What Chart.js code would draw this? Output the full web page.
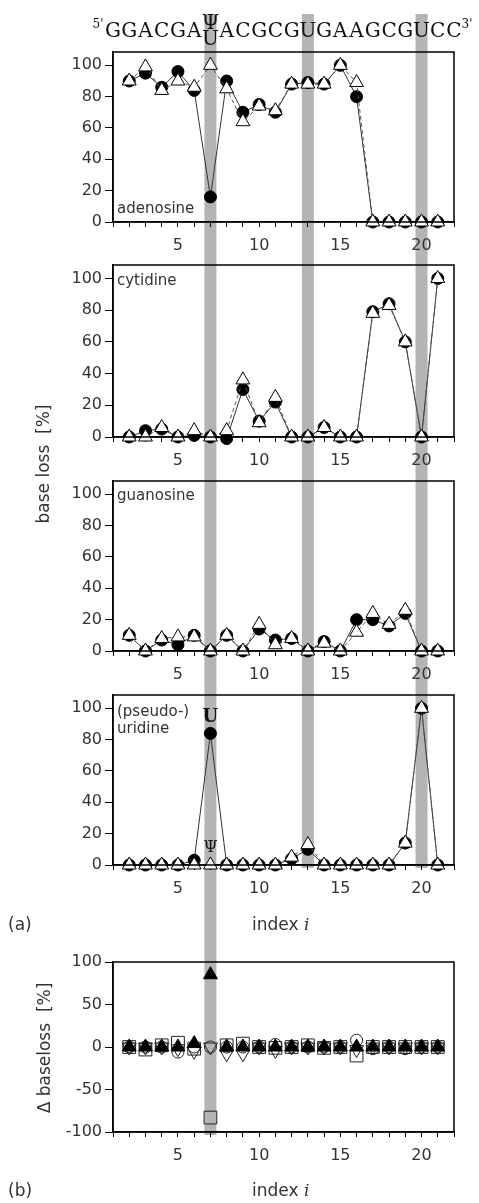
<!DOCTYPE html>
<html>
<head>
<meta charset="utf-8">
<script src="https://cdn.jsdelivr.net/npm/chart.js@4.4.0/dist/chart.umd.min.js"></script>
<style>
body { margin: 0; background: #fff; }
#wrap { position: relative; width: 479px; height: 1203px; overflow: hidden; font-family: "DejaVu Sans", sans-serif; color: #333; }
canvas { position: absolute; left: 0; }
.lbl { position: absolute; font-size: 17px; line-height: 1; white-space: nowrap; }
.rot { transform: translate(-50%, -50%) rotate(-90deg); }
</style>
</head>
<body>
<div id="wrap">
  <canvas id="c1" width="479" height="262" style="top:0px"></canvas>
  <canvas id="c2" width="479" height="215" style="top:262px"></canvas>
  <canvas id="c3" width="479" height="214" style="top:477px"></canvas>
  <canvas id="c4" width="479" height="254" style="top:691px"></canvas>
  <canvas id="c5" width="479" height="258" style="top:945px"></canvas>
  <div class="lbl rot" style="left:43px; top:464px">base loss&nbsp;&nbsp;[%]</div>
  <div class="lbl rot" style="left:44px; top:1048px">&Delta; baseloss&nbsp;&nbsp;[%]</div>
  <div class="lbl" style="left:8px; top:916px">(a)</div>
  <div class="lbl" style="left:252px; top:916px">index <i style="font-family:'DejaVu Serif'">i</i></div>
  <div class="lbl" style="left:8px; top:1182px">(b)</div>
  <div class="lbl" style="left:252px; top:1182px">index <i style="font-family:'DejaVu Serif'">i</i></div>
</div>
<script>
// positions along the strand
const positions = [2, 3, 4, 5, 6, 7, 8, 9, 10, 11, 12, 13, 14, 15, 16, 17, 18, 19, 20, 21];
const seqLetters = ['G','G','A','C','G','A','U','A','C','G','C','G','U','G','A','A','G','C','G','U','C','C'];
const bandPositions = [7, 13, 20];

const xTickValues = [1,2,3,4,5,6,7,8,9,10,11,12,13,14,15,16,17,18,19,20,21,22];
const xTickLabels = [5, 10, 15, 20];
const yTicksLoss = [0, 20, 40, 60, 80, 100];
const yTicksDelta = [-100, -50, 0, 50, 100];

// (a) base loss, filled circles = U, open triangles = Psi
const adenosineCircle   = [90, 95, 86, 96, 84, 16, 90, 70, 75, 70, 88, 89, 88, 100, 80, 0, 0, 0, 0, 0];
const adenosineTriangle = [90, 99, 84, 90, 86, 100, 85, 64, 74, 71, 88, 88, 88, 100, 89, 0, 0, 0, 0, 0];
const cytidineCircle    = [0, 4, 5, 0, 1, 0, -1, 30, 10, 22, 0, 0, 6, 0, 0, 79, 84, 60, 0, 100];
const cytidineTriangle  = [0, 0, 6, 0, 4, 0, 4, 36, 9, 25, 0, 0, 6, 0, 0, 78, 83, 60, 0, 100];
const guanosineCircle   = [10, 0, 7, 4, 10, 0, 10, 0, 14, 7, 8, 0, 6, 0, 20, 20, 16, 24, 0, 0];
const guanosineTriangle = [10, 0, 8, 9, 9, 0, 10, 0, 17, 4, 8, 0, 5, 0, 12, 24, 17, 26, 0, 0];
const uridineCircle     = [0, 0, 0, 0, 3, 84, 0, 0, 0, 0, 4, 10, 0, 0, 0, 0, 0, 14, 100, 0];
const uridineTriangle   = [0, 0, 0, 0, 0, 0, 0, 0, 0, 0, 5, 13, 0, 0, 0, 0, 0, 14, 100, 0];

// (b) difference in base loss
const deltaUp     = [0, 0, 0, 0, 4, 85, 0, 0, 0, 0, 0, 0, 0, 0, 0, 0, 0, 0, 0, 0];
const deltaSquare = [0, -3, 2, 5, -2, -83, 2, 4, 0, -1, 0, 2, -1, 0, -10, 0, 0, 0, 0, 0];
const deltaDown   = [0, 0, 0, -2, -5, 0, -8, -8, 0, -4, 0, 0, 0, 0, -3, 0, 0, 0, 0, 0];
const deltaCircle = [0, 0, 0, -6, 0, 0, 0, 0, 0, 3, 0, 0, 0, 0, 8, -2, 0, -2, 0, 0];

const SANS = '"DejaVu Sans", sans-serif';
const SERIF = '"DejaVu Serif", serif';
const INK = '#333';

function pts(values) {
  return values.map((v, i) => ({ x: positions[i], y: v }));
}

// gray columns behind the marked positions
function bandsPlugin(spans) {
  return {
    id: 'bands',
    beforeDraw(chart) {
      const ctx = chart.ctx;
      const x = chart.scales.x;
      ctx.save();
      ctx.fillStyle = '#b4b4b4';
      spans.forEach(s => {
        const px = x.getPixelForValue(s.at);
        const bottom = s.bottom === 'area' ? chart.chartArea.bottom + 3 : chart.height;
        ctx.fillRect(px - 6, s.top, 12, bottom - s.top);
      });
      ctx.restore();
    }
  };
}

const framePlugin = {
  id: 'frame',
  afterDraw(chart) {
    const { ctx, chartArea: a } = chart;
    ctx.save();
    ctx.strokeStyle = '#000';
    ctx.lineWidth = 1.5;
    ctx.strokeRect(a.left, a.top, a.right - a.left, a.bottom - a.top);
    ctx.restore();
  }
};

function textPlugin(lines) {
  return {
    id: 'panelText',
    afterDraw(chart) {
      const ctx = chart.ctx;
      ctx.save();
      ctx.fillStyle = INK;
      ctx.font = '15px ' + SANS;
      ctx.textBaseline = 'alphabetic';
      lines.forEach(l => ctx.fillText(l.text, chart.chartArea.left + 4, l.y));
      ctx.restore();
    }
  };
}

const seqPlugin = {
  id: 'sequence',
  afterDraw(chart) {
    const ctx = chart.ctx;
    const x = chart.scales.x;
    ctx.save();
    ctx.fillStyle = '#111';
    ctx.textAlign = 'center';
    ctx.textBaseline = 'middle';
    ctx.font = '20px ' + SERIF;
    seqLetters.forEach((ch, i) => {
      const px = x.getPixelForValue(i + 1);
      if (i + 1 === 7) {
        ctx.fillText('\u03A8', px, 24);
        ctx.fillText('U', px, 40);
      } else {
        ctx.fillText(ch, px, 32);
      }
    });
    ctx.font = '12px ' + SERIF;
    ctx.fillText("5'", x.getPixelForValue(1) - 15, 25);
    ctx.fillText("3'", x.getPixelForValue(22) + 13, 25);
    ctx.restore();
  }
};

const uridineMarks = {
  id: 'uMarks',
  afterDraw(chart) {
    const ctx = chart.ctx;
    const x = chart.scales.x, y = chart.scales.y;
    const px = x.getPixelForValue(7);
    ctx.save();
    ctx.fillStyle = '#111';
    ctx.textAlign = 'center';
    ctx.textBaseline = 'middle';
    ctx.font = 'bold 18px ' + SERIF;
    ctx.fillText('U', px, y.getPixelForValue(uridineCircle[5]) - 16);
    ctx.font = '16px ' + SERIF;
    ctx.fillText('\u03A8', px, y.getPixelForValue(uridineTriangle[5]) - 17);
    ctx.restore();
  }
};

function pairSets(circle, triangle) {
  return [
    { data: pts(triangle), borderColor: '#555', borderWidth: 1, borderDash: [4, 3],
      pointStyle: 'triangle', pointRadius: 8, pointBackgroundColor: '#fff',
      pointBorderColor: '#000', pointBorderWidth: 1, clip: false },
    { data: pts(circle), borderColor: '#333', borderWidth: 1,
      pointStyle: 'circle', pointRadius: 6, pointBackgroundColor: '#000',
      pointBorderColor: '#000', pointBorderWidth: 1, clip: false }
  ];
}

function makeChart(id, datasets, o) {
  return new Chart(document.getElementById(id), {
    type: 'line',
    data: { datasets },
    plugins: o.plugins,
    options: {
      responsive: false,
      animation: false,
      events: [],
      layout: { autoPadding: false, padding: { top: o.padTop, right: 25, left: 0, bottom: 0 } },
      plugins: { legend: { display: false }, tooltip: { enabled: false } },
      scales: {
        x: {
          type: 'linear', min: 1, max: 22,
          afterBuildTicks: s => { s.ticks = xTickValues.map(v => ({ value: v })); },
          afterFit: s => { s.height = o.xHeight; s.paddingLeft = 0; s.paddingRight = 0; },
          ticks: { autoSkip: false, maxRotation: 0, padding: 9, color: INK,
                   font: { family: SANS, size: 16 },
                   callback: v => xTickLabels.includes(v) ? String(v) : '' },
          grid: { drawOnChartArea: false, tickLength: 5, color: '#000', lineWidth: 1 },
          border: { color: '#000', width: 1.5 }
        },
        y: {
          min: o.yMin, max: o.yMax,
          afterBuildTicks: s => { s.ticks = o.yTicks.map(v => ({ value: v })); },
          afterFit: s => { s.width = 113; s.paddingTop = 0; s.paddingBottom = 0; },
          ticks: { padding: 3, color: INK, font: { family: SANS, size: 16 } },
          grid: { drawOnChartArea: false, tickLength: 8, color: '#000', lineWidth: 1 },
          border: { color: '#000', width: 1.5 }
        }
      }
    }
  });
}

const allBands = top => bandPositions.map(p => ({ at: p, top: top, bottom: null }));

makeChart('c1', pairSets(adenosineCircle, adenosineTriangle), {
  padTop: 52, xHeight: 40, yMin: 0, yMax: 108.5, yTicks: yTicksLoss,
  plugins: [bandsPlugin(allBands(14)), framePlugin, textPlugin([{ text: 'adenosine', y: 213 }]), seqPlugin]
});

makeChart('c2', pairSets(cytidineCircle, cytidineTriangle), {
  padTop: 3, xHeight: 40, yMin: 0, yMax: 108.5, yTicks: yTicksLoss,
  plugins: [bandsPlugin(allBands(0)), framePlugin, textPlugin([{ text: 'cytidine', y: 23 }])]
});

makeChart('c3', pairSets(guanosineCircle, guanosineTriangle), {
  padTop: 4, xHeight: 40, yMin: 0, yMax: 108.5, yTicks: yTicksLoss,
  plugins: [bandsPlugin(allBands(0)), framePlugin, textPlugin([{ text: 'guanosine', y: 23 }])]
});

makeChart('c4', pairSets(uridineCircle, uridineTriangle), {
  padTop: 4, xHeight: 80, yMin: 0, yMax: 108.5, yTicks: yTicksLoss,
  plugins: [bandsPlugin([{ at: 7, top: 0, bottom: null }, { at: 13, top: 0, bottom: 'area' }, { at: 20, top: 0, bottom: 'area' }]),
            framePlugin, textPlugin([{ text: '(pseudo-)', y: 25 }, { text: 'uridine', y: 42 }]), uridineMarks]
});

makeChart('c5', [
  { data: pts(deltaUp), showLine: false, pointStyle: 'triangle', pointRadius: 8,
    pointBackgroundColor: '#000', pointBorderColor: '#000', pointBorderWidth: 1, clip: false },
  { data: pts(deltaSquare), showLine: false, pointStyle: 'rect', pointRadius: 9,
    pointBackgroundColor: 'rgba(0,0,0,0)', pointBorderColor: '#222', pointBorderWidth: 1, clip: false },
  { data: pts(deltaDown), showLine: false, pointStyle: 'triangle', pointRotation: 180, pointRadius: 8,
    pointBackgroundColor: 'rgba(0,0,0,0)', pointBorderColor: '#222', pointBorderWidth: 1, clip: false },
  { data: pts(deltaCircle), showLine: false, pointStyle: 'circle', pointRadius: 6,
    pointBackgroundColor: 'rgba(0,0,0,0)', pointBorderColor: '#222', pointBorderWidth: 1, clip: false }
], {
  padTop: 17, xHeight: 71, yMin: -100, yMax: 100, yTicks: yTicksDelta,
  plugins: [bandsPlugin([{ at: 7, top: 0, bottom: 'area' }]), framePlugin]
});
</script>
</body>
</html>
